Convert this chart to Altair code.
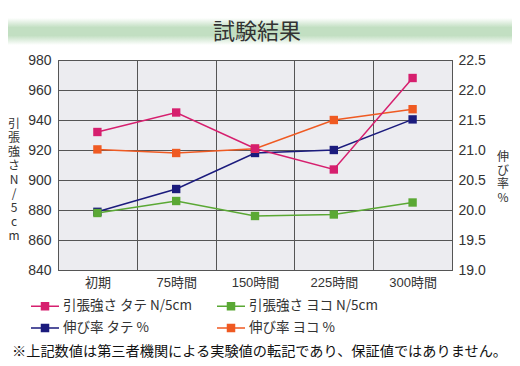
import altair as alt
import pandas as pd

categories = ["初期", "75時間", "150時間", "225時間", "300時間"]
tensile_tate = [932, 945, 921, 907, 968]
tensile_yoko = [878, 886, 876, 877, 885]
elong_tate = [19.97, 20.35, 20.95, 21.0, 21.51]
elong_yoko = [21.01, 20.95, 21.02, 21.5, 21.68]
series_names = ["引張強さ タテ N/5cm", "引張強さ ヨコ N/5cm", "伸び率 タテ %", "伸び率 ヨコ %"]
series_colors = ["#d61f6e", "#5aa834", "#1b1b7d", "#ef5a22"]
left_ticks = [840, 860, 880, 900, 920, 940, 960, 980]
right_ticks = [19.0, 19.5, 20.0, 20.5, 21.0, 21.5, 22.0, 22.5]
title_text = "試験結果"
note_text = "※上記数値は第三者機関による実験値の転記であり、保証値ではありません。"
left_title = list("引張強さN/5cm")
right_title = list("伸び率%")

FONT = '"Liberation Sans", "Noto Sans CJK JP", sans-serif'
JFONT = '"Noto Sans CJK JP", sans-serif'
TXT = "#333333"

rows_t = []
for c, v in zip(categories, tensile_tate):
    rows_t.append({"cat": c, "value": v, "series": series_names[0]})
for c, v in zip(categories, tensile_yoko):
    rows_t.append({"cat": c, "value": v, "series": series_names[1]})
rows_e = []
for c, v in zip(categories, elong_tate):
    rows_e.append({"cat": c, "value": v, "series": series_names[2]})
for c, v in zip(categories, elong_yoko):
    rows_e.append({"cat": c, "value": v, "series": series_names[3]})
df_t = pd.DataFrame(rows_t)
df_e = pd.DataFrame(rows_e)

x_enc = alt.X(
    "cat:N",
    sort=categories,
    bandPosition=0.5,
    scale=alt.Scale(type="band", domain=categories, paddingInner=0, paddingOuter=0),
    axis=alt.Axis(title=None, tickBand="extent", grid=True, gridColor="#555555", gridOpacity=1,
                  ticks=False, domain=False, labelAngle=0, labelFontSize=13, labelPadding=6,
                  labelColor=TXT, labelFont=FONT),
)

legend_path = "M-1,0H1M-0.25,-0.25H0.25V0.25H-0.25Z"
color_enc = alt.Color(
    "series:N",
    scale=alt.Scale(domain=series_names, range=series_colors),
    legend=alt.Legend(
        title=None, orient="none", legendX=-28, legendY=231, columns=2,
        direction="horizontal",
        columnPadding=22, rowPadding=-9, labelFontSize=13.5, labelFont=JFONT,
        labelColor=TXT, symbolType=legend_path, symbolSize=784, symbolStrokeWidth=1.5,
        labelOffset=3, symbolOpacity=1,
    ),
)

pt = alt.OverlayMarkDef(shape="square", size=70, filled=True, opacity=1)

elong = alt.Chart(df_e).mark_line(strokeWidth=1.5, point=pt).encode(
    x=x_enc,
    y=alt.Y("value:Q", scale=alt.Scale(domain=[19.0, 22.5], nice=False, zero=False),
            axis=alt.Axis(orient="right", values=right_ticks, format=".1f", grid=False,
                          ticks=False, domain=False, labelFontSize=14, labelPadding=6,
                          labelColor=TXT, labelFont=FONT, title=None)),
    color=color_enc,
)

tensile = alt.Chart(df_t).mark_line(strokeWidth=1.5, point=pt).encode(
    x=x_enc,
    y=alt.Y("value:Q", scale=alt.Scale(domain=[840, 980], nice=False, zero=False),
            axis=alt.Axis(orient="left", values=left_ticks, grid=True, gridColor="#555555",
                          gridOpacity=1, ticks=False, domain=False, labelFontSize=14,
                          labelPadding=7, labelColor=TXT, labelFont=FONT, title=None)),
    color=color_enc,
)

one = pd.DataFrame({"title": [title_text], "note": [note_text]})

band = alt.Chart(one).mark_rect(
    color=alt.Gradient(
        gradient="linear", x1=0, x2=0, y1=0, y2=1,
        stops=[alt.GradientStop(offset=0, color="#ffffff"),
               alt.GradientStop(offset=0.35, color="#c2dfc2"),
               alt.GradientStop(offset=0.65, color="#c2dfc2"),
               alt.GradientStop(offset=1, color="#ffffff")],
    )
).encode(x=alt.value(-53), x2=alt.value(457), y=alt.value(-42), y2=alt.value(-15))

title = alt.Chart(one).mark_text(fontSize=22, font=JFONT, color=TXT, align="center",
                                 baseline="middle").encode(
    text="title:N", x=alt.value(199), y=alt.value(-28))

ltitle = alt.Chart(one).mark_text(fontSize=12, font=JFONT, color=TXT, align="center",
                                  baseline="top", lineHeight=14).encode(
    text=alt.value(left_title), x=alt.value(-44), y=alt.value(59))

rtitle = alt.Chart(one).mark_text(fontSize=12, font=JFONT, color=TXT, align="center",
                                  baseline="top", lineHeight=13.5).encode(
    text=alt.value(right_title), x=alt.value(445), y=alt.value(92))

note = alt.Chart(one).mark_text(fontSize=14.2, font=JFONT, color="#111111", align="left",
                                baseline="middle").encode(
    text="note:N", x=alt.value(-46), y=alt.value(292))

chart = alt.layer(band, title, ltitle, rtitle, elong, tensile, note).resolve_scale(
    y="independent"
).properties(
    width=394, height=210,
    autosize=alt.AutoSizeParams(type="none"),
    padding={"left": 50, "top": 52, "right": 60, "bottom": 94},
    background="#ffffff",
).configure_view(fill="#ececf0", stroke="#444444", strokeWidth=1)

chart.save("out.html", embed_options={"renderer": "svg", "actions": False})
